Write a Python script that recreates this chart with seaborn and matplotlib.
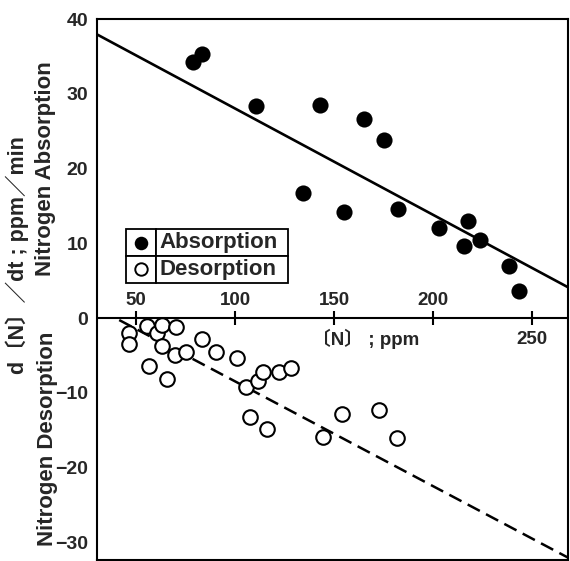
import matplotlib
matplotlib.use("Agg")
import matplotlib.pyplot as plt
import seaborn as sns

# ---------------- data ----------------
abs_n = [78.6, 83.1, 110.6, 134.5, 143.0, 155.1, 165.4, 175.3, 182.6,
         203.1, 215.6, 218.0, 223.9, 238.6, 243.6]
abs_rate = [34.3, 35.3, 28.4, 16.8, 28.5, 14.2, 26.6, 23.8, 14.6,
            12.1, 9.7, 13.0, 10.4, 7.0, 3.6]

des_n = [46.5, 46.5, 55.6, 60.3, 63.2, 70.0, 62.9, 56.6, 65.6, 69.6,
         75.2, 83.1, 90.3, 100.8, 105.5, 111.7, 114.3, 122.4, 128.3,
         107.5, 116.0, 144.3, 153.9, 173.0, 181.7]
des_rate = [-2.05, -3.5, -1.07, -2.05, -0.94, -1.25, -3.75, -6.4, -8.1, -4.95,
            -4.6, -2.8, -4.6, -5.3, -9.3, -8.4, -7.2, -7.2, -6.7,
            -13.2, -14.8, -15.9, -12.85, -12.3, -16.0]

abs_fit_n = [30.0, 268.5]
abs_fit_rate = [38.0, 4.1]
des_fit_n = [41.4, 268.5]
des_fit_rate = [-0.27, -32.1]

x_ticks = [50, 100, 150, 200, 250]
x_tick_labels = ["50", "100", "150", "200", "250"]
y_ticks = [-30, -20, -10, 0, 10, 20, 30, 40]
y_tick_labels = ["\u221230", "\u221220", "\u221210", "0", "10", "20", "30", "40"]

legend_labels = ["Absorption", "Desorption"]
x_label = "\u3014N\u3015 ; ppm"
y_label = "d\u3014N\u3015\uFF0Fdt ; ppm\uFF0Fmin"
y_label_top = "Nitrogen Absorption"
y_label_bottom = "Nitrogen Desorption"

# ---------------- style ----------------
sns.set_style("white")
plt.rcParams["font.family"] = ["Liberation Sans", "Noto Sans CJK JP", "DejaVu Sans"]
plt.rcParams["font.weight"] = "bold"

fig = plt.figure(figsize=(5.7, 5.61), dpi=100)
ax = fig.add_axes([0.1696, 0.0018, 0.8274, 0.9638])
ax.set_xlim(30, 268.5)
ax.set_ylim(-32.4, 40)

# fit lines
sns.lineplot(x=abs_fit_n, y=abs_fit_rate, color="black", linewidth=1.9, ax=ax, zorder=2)
sns.lineplot(x=des_fit_n, y=des_fit_rate, color="black", linewidth=1.8, ax=ax, zorder=2)
ax.lines[-1].set_dashes((5.5, 2.8))

# zero line with crossing ticks
ax.axhline(0, color="black", linewidth=1.5, zorder=1)
ax.plot(x_ticks, [0] * len(x_ticks), ls="none", marker="|", ms=9.6, mew=1.5,
        color="black", zorder=1)

# points
sns.scatterplot(x=abs_n, y=abs_rate, color="black", s=135, linewidth=0, ax=ax, zorder=3)
sns.scatterplot(x=des_n, y=des_rate, color="white", edgecolor="black", s=110,
                linewidth=1.5, ax=ax, zorder=3)

# axes styling
for sp in ax.spines.values():
    sp.set_visible(True)
    sp.set_color("black")
    sp.set_linewidth(1.5)
ax.set_xticks(x_ticks)
ax.set_xticklabels([])
ax.tick_params(axis="x", direction="in", length=9.6, width=1.5, labelbottom=False)
ax.set_yticks(y_ticks)
ax.set_yticklabels(y_tick_labels)
ax.tick_params(axis="y", direction="in", length=10, width=1.5, labelsize=14, pad=6)
for t in ax.get_yticklabels():
    t.set_fontweight("bold")
ax.set_xlabel("")
ax.set_ylabel("")

# x tick labels along the zero line
for v, lab in zip(x_ticks[:-1], x_tick_labels[:-1]):
    ax.annotate(lab, xy=(v, 0), xytext=(0, 9.6), textcoords="offset points",
                ha="center", va="baseline", fontsize=13.5, fontweight="bold")
ax.annotate(x_tick_labels[-1], xy=(x_ticks[-1], 0), xytext=(0, -18.7),
            textcoords="offset points", ha="center", va="baseline",
            fontsize=13.5, fontweight="bold")
ax.annotate(x_label, xy=(166, 0), xytext=(0, -19.4), textcoords="offset points",
            ha="center", va="baseline", fontsize=13.5, fontweight="bold")

# y labels
fig.text(0.031, 0.545, y_label, rotation=90, ha="center", va="center",
         fontsize=15.5, fontweight="bold")
fig.text(0.079, 0.699, y_label_top, rotation=90, ha="center", va="center",
         fontsize=16, fontweight="bold")
fig.text(0.084, 0.218, y_label_bottom, rotation=90, ha="center", va="center",
         fontsize=16, fontweight="bold")

# legend as a boxed table with marker keys
lx, ly, lw, lh = 0.0615, 0.5129, 0.3448, 0.0987
key_frac = 0.1845
tbl = ax.table(cellText=[["", legend_labels[0]], ["", legend_labels[1]]],
               bbox=[lx, ly, lw, lh], colWidths=[key_frac, 1 - key_frac],
               cellLoc="left", zorder=5)
tbl.auto_set_font_size(False)
for (r, c), cell in tbl.get_celld().items():
    cell.set_linewidth(1.3)
    cell.set_edgecolor("black")
    cell.set_facecolor("white")
    txt = cell.get_text()
    txt.set_fontweight("bold")
    txt.set_fontsize(16)
    cell.PAD = 0.03
key_x = lx + lw * key_frac / 2
ax.scatter([key_x], [ly + lh * 0.75], transform=ax.transAxes, s=95, color="black",
           linewidth=0, zorder=6, clip_on=False)
ax.scatter([key_x], [ly + lh * 0.25], transform=ax.transAxes, s=80, facecolor="white",
           edgecolor="black", linewidth=1.4, zorder=6, clip_on=False)

fig.savefig("out.png", dpi=100)
